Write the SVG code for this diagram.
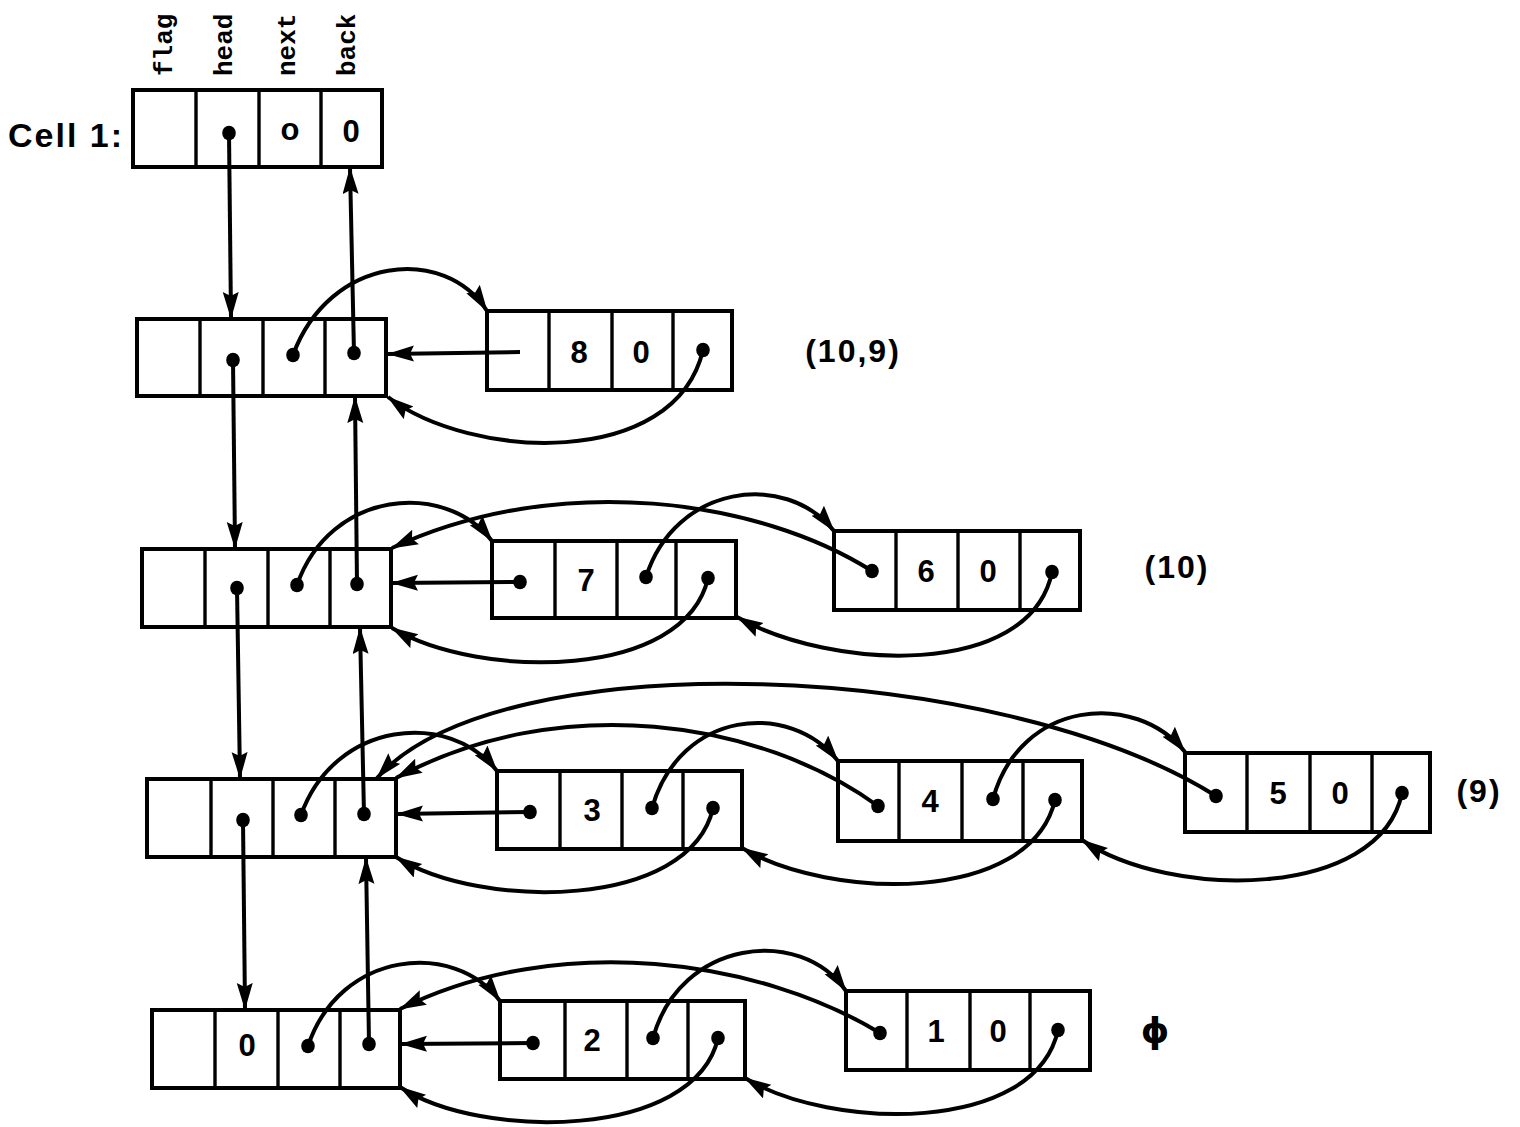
<svg xmlns="http://www.w3.org/2000/svg" width="1520" height="1127" viewBox="0 0 1520 1127">
<style>
.box{fill:#fff;stroke:#000;stroke-width:4}
.div{stroke:#000;stroke-width:3.4}
.num{font-family:"Liberation Sans",Arial,sans-serif;font-weight:bold;font-size:31px;text-anchor:middle;fill:#000}
.lbl{font-family:"Liberation Sans",Arial,sans-serif;font-weight:bold;font-size:32px;letter-spacing:2px;text-anchor:middle;fill:#000}
.hdr{font-family:"Liberation Mono","Courier New",monospace;font-weight:bold;font-size:26px;fill:#000}
.c{fill:none;stroke:#000;stroke-width:4}
.a{marker-end:url(#ah)}
.d{marker-start:url(#dot)}
</style>
<defs>
<marker id="ah" markerUnits="userSpaceOnUse" markerWidth="30" markerHeight="18" refX="26" refY="8" orient="auto">
<path d="M0,0 L27,8 L0,16 L4,8 Z" fill="#000"/>
</marker>
<marker id="dot" markerUnits="userSpaceOnUse" markerWidth="18" markerHeight="18" refX="9" refY="9" orient="0">
<ellipse cx="9" cy="9" rx="6.8" ry="7.3" fill="#000"/>
</marker>
</defs>
<rect width="1520" height="1127" fill="#fff"/>

<g id="header">
<text class="hdr" transform="translate(172,76) rotate(-90)">flag</text>
<text class="hdr" transform="translate(232,76) rotate(-90)">head</text>
<text class="hdr" transform="translate(295,76) rotate(-90)">next</text>
<text class="hdr" transform="translate(355,76) rotate(-90)">back</text>
<text x="8" y="147" font-family="Liberation Sans,Arial,sans-serif" font-weight="bold" font-size="34" letter-spacing="2">Cell 1:</text>
</g>

<g id="cell1">
<rect class="box" x="133" y="90" width="249" height="77"/>
<line class="div" x1="196" y1="90" x2="196" y2="167"/>
<line class="div" x1="259" y1="90" x2="259" y2="167"/>
<line class="div" x1="321" y1="90" x2="321" y2="167"/>
<text class="num" x="290" y="140" font-size="25">o</text>
<text class="num" x="351" y="142">0</text>
</g>

<g id="row1-list">
<rect class="box" x="137" y="319" width="249" height="77"/>
<line class="div" x1="200" y1="319" x2="200" y2="396"/>
<line class="div" x1="263" y1="319" x2="263" y2="396"/>
<line class="div" x1="325" y1="319" x2="325" y2="396"/>
</g>
<g id="row1-node8">
<rect class="box" x="487" y="311" width="245" height="79"/>
<line class="div" x1="549" y1="311" x2="549" y2="390"/>
<line class="div" x1="612" y1="311" x2="612" y2="390"/>
<line class="div" x1="673" y1="311" x2="673" y2="390"/>
<text class="num" x="579" y="363">8</text>
<text class="num" x="641" y="363">0</text>
</g>
<text class="lbl" x="853" y="362">(10,9)</text>

<g id="row2-list">
<rect class="box" x="142" y="549" width="249" height="78"/>
<line class="div" x1="205" y1="549" x2="205" y2="627"/>
<line class="div" x1="268" y1="549" x2="268" y2="627"/>
<line class="div" x1="330" y1="549" x2="330" y2="627"/>
</g>
<g id="row2-node7">
<rect class="box" x="492" y="541" width="244" height="77"/>
<line class="div" x1="555" y1="541" x2="555" y2="618"/>
<line class="div" x1="617" y1="541" x2="617" y2="618"/>
<line class="div" x1="676" y1="541" x2="676" y2="618"/>
<text class="num" x="586" y="591">7</text>
</g>
<g id="row2-node6">
<rect class="box" x="834" y="531" width="246" height="79"/>
<line class="div" x1="896" y1="531" x2="896" y2="610"/>
<line class="div" x1="958" y1="531" x2="958" y2="610"/>
<line class="div" x1="1020" y1="531" x2="1020" y2="610"/>
<text class="num" x="926" y="582">6</text>
<text class="num" x="988" y="582">0</text>
</g>
<text class="lbl" x="1177" y="578">(10)</text>

<g id="row3-list">
<rect class="box" x="147" y="779" width="249" height="78"/>
<line class="div" x1="211" y1="779" x2="211" y2="857"/>
<line class="div" x1="273" y1="779" x2="273" y2="857"/>
<line class="div" x1="335" y1="779" x2="335" y2="857"/>
</g>
<g id="row3-node3">
<rect class="box" x="497" y="771" width="245" height="78"/>
<line class="div" x1="560" y1="771" x2="560" y2="849"/>
<line class="div" x1="622" y1="771" x2="622" y2="849"/>
<line class="div" x1="683" y1="771" x2="683" y2="849"/>
<text class="num" x="592" y="821">3</text>
</g>
<g id="row3-node4">
<rect class="box" x="838" y="761" width="244" height="80"/>
<line class="div" x1="899" y1="761" x2="899" y2="841"/>
<line class="div" x1="962" y1="761" x2="962" y2="841"/>
<line class="div" x1="1023" y1="761" x2="1023" y2="841"/>
<text class="num" x="930" y="812">4</text>
</g>
<g id="row3-node5">
<rect class="box" x="1185" y="753" width="245" height="79"/>
<line class="div" x1="1247" y1="753" x2="1247" y2="832"/>
<line class="div" x1="1310" y1="753" x2="1310" y2="832"/>
<line class="div" x1="1372" y1="753" x2="1372" y2="832"/>
<text class="num" x="1278" y="804">5</text>
<text class="num" x="1340" y="804">0</text>
</g>
<text class="lbl" x="1479" y="802">(9)</text>

<g id="row4-list">
<rect class="box" x="152" y="1010" width="248" height="78"/>
<line class="div" x1="215" y1="1010" x2="215" y2="1088"/>
<line class="div" x1="278" y1="1010" x2="278" y2="1088"/>
<line class="div" x1="340" y1="1010" x2="340" y2="1088"/>
<text class="num" x="247" y="1056" font-size="28">0</text>
</g>
<g id="row4-node2">
<rect class="box" x="500" y="1001" width="245" height="78"/>
<line class="div" x1="565" y1="1001" x2="565" y2="1079"/>
<line class="div" x1="627" y1="1001" x2="627" y2="1079"/>
<line class="div" x1="688" y1="1001" x2="688" y2="1079"/>
<text class="num" x="592" y="1051">2</text>
</g>
<g id="row4-node1">
<rect class="box" x="846" y="991" width="244" height="79"/>
<line class="div" x1="907" y1="991" x2="907" y2="1070"/>
<line class="div" x1="970" y1="991" x2="970" y2="1070"/>
<line class="div" x1="1030" y1="991" x2="1030" y2="1070"/>
<text class="num" x="936" y="1042">1</text>
<text class="num" x="998" y="1042">0</text>
</g>
<text x="1155" y="1043" text-anchor="middle" font-family="DejaVu Sans,sans-serif" font-weight="bold" font-size="36" fill="#000">ϕ</text>

<g id="connectors">
<path class="c a d" d="M229,133 L231,318"/>
<path class="c a d" d="M354,353 L350,168"/>
<path class="c a d" d="M233,360 L235,548"/>
<path class="c a d" d="M357,584 L355,397"/>
<path class="c a d" d="M237,588 L240,778"/>
<path class="c a d" d="M364,814 L360,628"/>
<path class="c a d" d="M243,820 L245,1009"/>
<path class="c a d" d="M369,1044 L366,858"/>
<path class="c a" d="M520,352 L388,354"/>
<path class="c a d" d="M520,582 L392,583"/>
<path class="c a d" d="M530,812 L397,814"/>
<path class="c a d" d="M533,1043 L401,1044"/>
<path class="c a d" d="M293,355 C330,255 445,245 487,311"/>
<path class="c a d" d="M703,350 C675,470 470,460 388,397"/>
<path class="c a d" d="M297,585 C330,490 445,480 492,541"/>
<path class="c a d" d="M646,577 C675,485 785,470 834,531"/>
<path class="c a d" d="M872,571 C760,500 560,470 392,548"/>
<path class="c a d" d="M708,578 C685,680 480,680 392,628"/>
<path class="c a d" d="M1052,572 C1030,680 830,670 737,617"/>
<path class="c a d" d="M301,815 C335,720 450,710 497,771"/>
<path class="c a d" d="M652,808 C680,710 790,700 838,761"/>
<path class="c a d" d="M993,799 C1020,700 1135,690 1185,752"/>
<path class="c a d" d="M878,806 C760,720 560,690 396,778"/>
<path class="c a d" d="M1216,796 C1000,660 500,640 377,778"/>
<path class="c a d" d="M713,808 C690,910 480,910 396,857"/>
<path class="c a d" d="M1055,800 C1030,905 830,900 742,848"/>
<path class="c a d" d="M1402,793 C1380,900 1170,900 1082,840"/>
<path class="c a d" d="M308,1046 C340,950 455,940 500,1001"/>
<path class="c a d" d="M653,1038 C680,940 800,925 846,991"/>
<path class="c a d" d="M880,1033 C760,960 560,930 400,1009"/>
<path class="c a d" d="M718,1038 C695,1140 480,1140 400,1087"/>
<path class="c a d" d="M1058,1030 C1035,1135 830,1130 745,1078"/>
</g>
</svg>
